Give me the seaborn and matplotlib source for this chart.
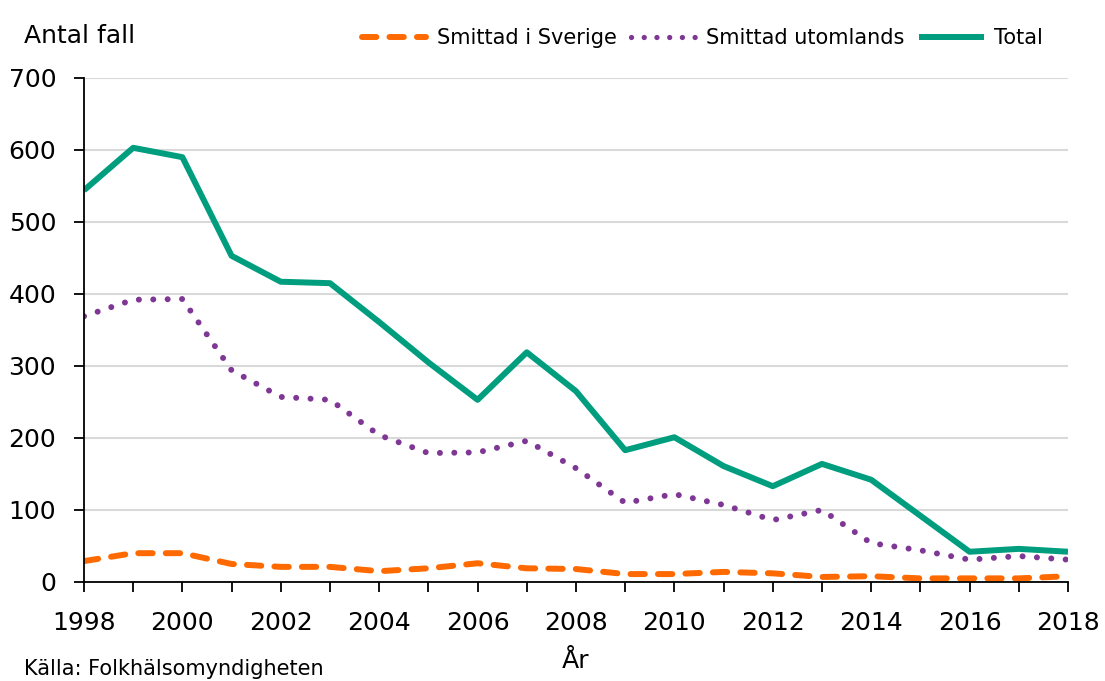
import pandas as pd
import matplotlib
matplotlib.use("Agg")
import matplotlib.pyplot as plt
import seaborn as sns
from matplotlib.ticker import MultipleLocator

# Data
years = list(range(1998, 2019))
sverige = [29, 40, 40, 25, 21, 21, 15, 19, 26, 19, 18, 11, 11, 14, 12, 7, 8, 5, 5, 5, 8]
utomlands = [369, 392, 393, 294, 257, 253, 204, 179, 180, 196, 158, 110, 122, 107, 86, 100, 54, 44, 31, 36, 31]
total = [544, 603, 590, 453, 417, 415, 361, 305, 253, 319, 265, 183, 201, 161, 133, 164, 142, 92, 42, 46, 42]

series_names = ["Smittad i Sverige", "Smittad utomlands", "Total"]
colors = ["#FF6A00", "#7E3794", "#009E7E"]

df = pd.DataFrame({"År": years, series_names[0]: sverige,
                   series_names[1]: utomlands, series_names[2]: total})
long = df.melt(id_vars="År", var_name="serie", value_name="antal")

sns.set_style("white")
plt.rcParams['font.family'] = ['DejaVu Sans']
plt.rcParams['text.color'] = 'black'
plt.rcParams['axes.labelcolor'] = 'black'
plt.rcParams['xtick.color'] = 'black'
plt.rcParams['ytick.color'] = 'black'

fig = plt.figure(figsize=(11.05, 6.81), dpi=100)
ax = fig.add_axes([0.076, 0.1454, 0.8905, 0.7401])

sns.lineplot(data=long, x="År", y="antal", hue="serie", style="serie",
             palette=dict(zip(series_names, colors)),
             dashes={series_names[0]: (2.4, 2.2), series_names[1]: (0.01, 2.4), series_names[2]: ""},
             linewidth=4.3, ax=ax, legend=True)
for line in ax.get_lines():
    line.set_dash_capstyle("round")
    line.set_solid_capstyle("butt")
    if line.get_label() == series_names[1]:
        line.set_linewidth(3.8)

ax.set_xlim(1998, 2018)
ax.set_ylim(0, 700)
ax.yaxis.set_major_locator(MultipleLocator(100))
ax.xaxis.set_major_locator(MultipleLocator(2))
ax.xaxis.set_minor_locator(MultipleLocator(1))
ax.grid(axis="y", color="#D9D9D9", linewidth=1.5)
ax.set_axisbelow(True)
for s in ["top", "right"]:
    ax.spines[s].set_visible(False)
ax.spines["left"].set_color("black")
ax.spines["bottom"].set_color("black")
ax.spines["left"].set_linewidth(1.3)
ax.spines["bottom"].set_linewidth(1.3)
ax.tick_params(axis="both", which="both", direction="out", length=7, width=1.3,
               color="black", labelsize=18, left=True, bottom=True)
ax.tick_params(axis="x", which="both", pad=14)
ax.tick_params(axis="y", pad=13)
ax.set_xlabel("År", fontsize=18, labelpad=10, color="black")
ax.set_ylabel("")

handles, labels = ax.get_legend_handles_labels()
for h in handles:
    h.set_dash_capstyle("round")
fig.legend(handles, labels, loc="center right", bbox_to_anchor=(0.944, 1 - 38 / 681), ncol=3,
           frameon=False, fontsize=15, handlelength=3.1, handletextpad=0.5,
           columnspacing=0.7, borderpad=0, borderaxespad=0)
ax.get_legend().remove()

fig.text(0.022, 0.965, "Antal fall", fontsize=18, va="top", ha="left")
fig.text(0.022, 0.018, "Källa: Folkhälsomyndigheten", fontsize=15, va="center", ha="left")

fig.savefig("out.png", dpi=100)
